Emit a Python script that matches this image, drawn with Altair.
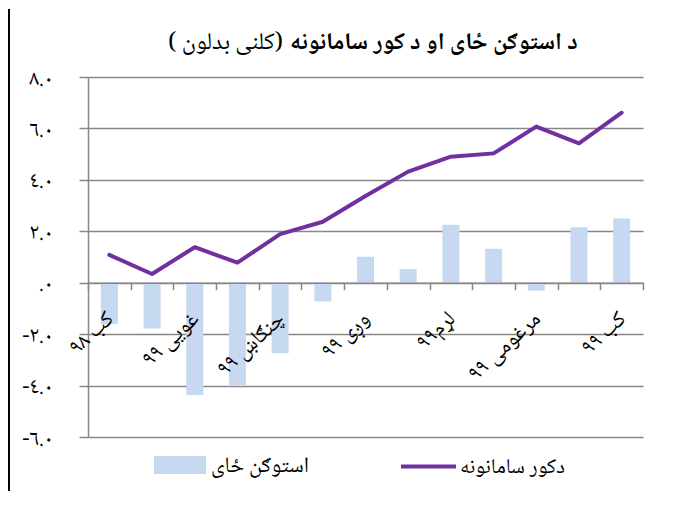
import json
import altair as alt
import pandas as pd

# ---------------- data ----------------
months = ["کب ۹۸", "وری ۹۹", "غویی ۹۹", "غبرګولی ۹۹", "چنګاښ ۹۹", "زمری ۹۹", "وږی ۹۹",
          "تله ۹۹", "لړم۹۹", "لیندۍ ۹۹", "مرغومی ۹۹", "سلواغه ۹۹", "کب ۹۹"]
shown_labels = ["کب ۹۸", "غویی ۹۹", "چنګاښ ۹۹", "وږی ۹۹", "لړم۹۹", "مرغومی ۹۹", "کب ۹۹"]
housing = [-1.61, -1.78, -4.37, -3.98, -2.74, -0.73, 1.01, 0.53, 2.25, 1.32, -0.31, 2.16, 2.50]
furnishings = [1.08, 0.34, 1.38, 0.78, 1.89, 2.37, 3.37, 4.32, 4.90, 5.03, 6.07, 5.42, 6.61]
y_ticks = [-6, -4, -2, 0, 2, 4, 6, 8]
y_tick_labels = ["-٦.٠", "-٤.٠", "-٢.٠", ".٠", "٢.٠", "٤.٠", "٦.٠", "٨.٠"]
bar_name = "استوګن ځای"
line_name = "دکور سامانونه"
title_main = "د استوګن ځای او د کور سامانونه"
title_sub = "( کلنی بدلون)"

# ---------------- layout ----------------
W, H = 555, 360
FONT = "Noto Naskh Arabic, Noto Sans Arabic, DejaVu Sans"
GRID = "#878787"

df = pd.DataFrame({"month": months, "housing": housing, "furnishings": furnishings})
df["s1"] = bar_name
df["s2"] = line_name

y_label_expr = "{}[indexof({}, datum.value)]".format(
    json.dumps(y_tick_labels, ensure_ascii=False), json.dumps(y_ticks))
x_label_expr = "indexof({}, datum.value) >= 0 ? datum.value : ''".format(
    json.dumps(shown_labels, ensure_ascii=False))

x_axis = alt.Axis(
    title=None, orient="bottom", offset=-(H * 6 / 14),
    domainColor=GRID, domainWidth=1.5, tickColor=GRID, tickWidth=1.5,
    tickSize=7, tickBand="extent", labelAngle=-43, labelAlign="right",
    labelBaseline="middle", labelPadding=25, labelFont=FONT, labelFontSize=22,
    labelColor="black", labelExpr=x_label_expr, labelOverlap=False,
    labelBound=False, grid=False, zindex=1,
)
x_scale = alt.Scale(paddingInner=0, paddingOuter=0)

y_axis = alt.Axis(
    title=None, values=y_ticks, labelExpr=y_label_expr, grid=True,
    gridColor=GRID, gridWidth=1.5, domainColor=GRID, domainWidth=1.5,
    tickColor=GRID, tickWidth=1.5, tickSize=9, labelPadding=26,
    labelFont=FONT, labelFontSize=22, labelColor="black")
y_scale = alt.Scale(domain=[-6, 8], nice=False, zero=False)

bars = alt.Chart(df).mark_bar(size=17).encode(
    x=alt.X("month:N", sort=months, scale=x_scale, axis=x_axis),
    y=alt.Y("housing:Q", scale=y_scale, axis=y_axis),
    fill=alt.Fill("s1:N", scale=alt.Scale(domain=[bar_name], range=["#C6D9F1"]),
                  legend=alt.Legend(orient="none", legendX=66, legendY=362, title=None,
                                    padding=0, symbolType="M-1,-0.35H1V0.35H-1Z",
                                    symbolSize=2704, symbolStrokeWidth=0,
                                    labelOffset=5, labelFont=FONT, labelFontSize=22,
                                    labelColor="black")),
)

line = alt.Chart(df).mark_line(strokeWidth=4, strokeCap="round", strokeJoin="round").encode(
    x=alt.X("month:N", sort=months, scale=x_scale, axis=x_axis),
    y=alt.Y("furnishings:Q", scale=y_scale, axis=y_axis),
    stroke=alt.Stroke("s2:N", scale=alt.Scale(domain=[line_name], range=["#7030A0"]),
                      legend=alt.Legend(orient="none", legendX=311, legendY=360, title=None,
                                        padding=0, symbolType="stroke", symbolSize=3025,
                                        symbolStrokeWidth=4, labelOffset=2, labelFont=FONT,
                                        labelFontSize=21, labelColor="black")),
)

t_main = alt.Chart(pd.DataFrame({"t": [title_main]})).mark_text(
    align="left", baseline="middle", fontSize=24, fontWeight="bold", font=FONT, color="black"
).encode(x=alt.value(202), y=alt.value(-35), text="t:N")

t_sub = alt.Chart(pd.DataFrame({"t": [title_sub]})).mark_text(
    align="right", baseline="middle", fontSize=24, font=FONT, color="black"
).encode(x=alt.value(195), y=alt.value(-35), text="t:N")

frame = alt.Chart(pd.DataFrame({"f": [0]})).mark_rule(color="black", strokeWidth=2).encode(
    x=alt.value(-79), y=alt.value(-68), y2=alt.value(414))

chart = alt.layer(bars, line, t_main, t_sub, frame).resolve_scale(
    fill="independent", stroke="independent"
).properties(
    width=W, height=H,
    padding={"left": 0, "top": 0, "right": 5, "bottom": 0},
).configure_view(stroke=None)

chart.save("out.html", embed_options={"renderer": "svg", "actions": False})
